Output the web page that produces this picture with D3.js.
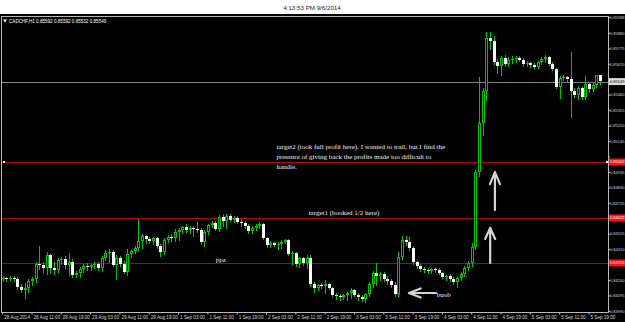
<!DOCTYPE html>
<html>
<head>
<meta charset="utf-8">
<script src="https://cdn.jsdelivr.net/npm/d3@7"></script>
<style>
  body { margin: 0; background: #fff; }
  svg { display: block; }
</style>
</head>
<body>
<svg id="chart" width="625" height="322"></svg>
<script>
// CADCHF H1, 28 Aug 2014 03:00 -> 5 Sep 2014 22:00
const symbolTitle = "CADCHF,H1";
const screenshotTime = "4:13:53 PM 9/6/2014";

const opens = [
  0.84207, 0.84214, 0.84207, 0.84214, 0.84207, 0.84152, 0.84132, 0.84146, 0.84193, 0.84207,
  0.84309, 0.84302, 0.84282, 0.84370, 0.84282, 0.84268, 0.84336, 0.84343, 0.84302, 0.84322,
  0.84234, 0.84248, 0.84275, 0.84295, 0.84288, 0.84302, 0.84309, 0.84282, 0.84350, 0.84384,
  0.84390, 0.84302, 0.84350, 0.84309, 0.84254, 0.84377, 0.84397, 0.84418, 0.84465, 0.84499,
  0.84479, 0.84465, 0.84486, 0.84431, 0.84390, 0.84472, 0.84492, 0.84486, 0.84526, 0.84540,
  0.84560, 0.84540, 0.84554, 0.84547, 0.84540, 0.84458, 0.84526, 0.84574, 0.84588, 0.84547,
  0.84628, 0.84601, 0.84635, 0.84608, 0.84622, 0.84594, 0.84588, 0.84567, 0.84533, 0.84554,
  0.84567, 0.84581, 0.84486, 0.84438, 0.84452, 0.84438, 0.84445, 0.84458, 0.84472, 0.84377,
  0.84384, 0.84309, 0.84350, 0.84316, 0.84350, 0.84173, 0.84146, 0.84166, 0.84159, 0.84173,
  0.84146, 0.84098, 0.84091, 0.84084, 0.84098, 0.84112, 0.84132, 0.84098, 0.84084, 0.84071,
  0.84105, 0.84173, 0.84248, 0.84227, 0.84241, 0.84207, 0.84193, 0.84166, 0.84105, 0.84356,
  0.84472, 0.84458, 0.84418, 0.84322, 0.84295, 0.84275, 0.84268, 0.84261, 0.84275, 0.84268,
  0.84248, 0.84220, 0.84227, 0.84207, 0.84186, 0.84214, 0.84241, 0.84282, 0.84316, 0.84424,
  0.84934, 0.85268, 0.85485, 0.85846, 0.85825, 0.85682, 0.85655, 0.85710, 0.85669, 0.85696,
  0.85703, 0.85710, 0.85696, 0.85669, 0.85676, 0.85662, 0.85648, 0.85682, 0.85703, 0.85716,
  0.85669, 0.85635, 0.85512, 0.85574, 0.85580, 0.85567, 0.85485, 0.85458, 0.85506, 0.85444,
  0.85533, 0.85499, 0.85526, 0.85592
];
const highs = [
  0.84227, 0.84220, 0.84227, 0.84227, 0.84220, 0.84173, 0.84180, 0.84207, 0.84220, 0.84322,
  0.84431, 0.84322, 0.84390, 0.84377, 0.84322, 0.84350, 0.84356, 0.84363, 0.84384, 0.84343,
  0.84261, 0.84288, 0.84309, 0.84316, 0.84309, 0.84322, 0.84322, 0.84363, 0.84404, 0.84411,
  0.84404, 0.84370, 0.84363, 0.84329, 0.84411, 0.84404, 0.84431, 0.84615, 0.84513, 0.84506,
  0.84492, 0.84492, 0.84492, 0.84445, 0.84486, 0.84506, 0.84513, 0.84547, 0.84554, 0.84567,
  0.84581, 0.84567, 0.84567, 0.84594, 0.84554, 0.84540, 0.84581, 0.84601, 0.84601, 0.84642,
  0.84649, 0.84649, 0.84649, 0.84635, 0.84635, 0.84615, 0.84601, 0.84581, 0.84567, 0.84581,
  0.84594, 0.84588, 0.84492, 0.84465, 0.84458, 0.84458, 0.84472, 0.84479, 0.84479, 0.84397,
  0.84390, 0.84356, 0.84356, 0.84370, 0.84370, 0.84186, 0.84173, 0.84180, 0.84200, 0.84180,
  0.84152, 0.84112, 0.84105, 0.84105, 0.84118, 0.84146, 0.84139, 0.84112, 0.84098, 0.84112,
  0.84186, 0.84261, 0.84316, 0.84254, 0.84254, 0.84227, 0.84207, 0.84186, 0.84390, 0.84499,
  0.84499, 0.84492, 0.84431, 0.84329, 0.84309, 0.84288, 0.84282, 0.84282, 0.84288, 0.84282,
  0.84254, 0.84234, 0.84241, 0.84220, 0.84227, 0.84254, 0.84295, 0.84329, 0.84452, 0.84948,
  0.85580, 0.85506, 0.85886, 0.85886, 0.85859, 0.85703, 0.85723, 0.85730, 0.85716, 0.85723,
  0.85723, 0.85723, 0.85710, 0.85689, 0.85682, 0.85676, 0.85689, 0.85716, 0.85730, 0.85723,
  0.85682, 0.85642, 0.85587, 0.85594, 0.85587, 0.85750, 0.85506, 0.85519, 0.85512, 0.85587,
  0.85546, 0.85540, 0.85592, 0.85592
];
const lows = [
  0.84193, 0.84193, 0.84200, 0.84193, 0.84139, 0.84118, 0.84078, 0.84118, 0.84166, 0.84186,
  0.84275, 0.84254, 0.84241, 0.84248, 0.84241, 0.84254, 0.84309, 0.84282, 0.84234, 0.84220,
  0.84220, 0.84220, 0.84254, 0.84268, 0.84268, 0.84282, 0.84268, 0.84261, 0.84336, 0.84322,
  0.84295, 0.84207, 0.84295, 0.84248, 0.84234, 0.84356, 0.84384, 0.84404, 0.84418, 0.84452,
  0.84452, 0.84445, 0.84418, 0.84363, 0.84377, 0.84458, 0.84465, 0.84465, 0.84472, 0.84520,
  0.84526, 0.84520, 0.84499, 0.84526, 0.84445, 0.84431, 0.84513, 0.84560, 0.84540, 0.84533,
  0.84567, 0.84554, 0.84601, 0.84594, 0.84588, 0.84567, 0.84554, 0.84520, 0.84520, 0.84540,
  0.84554, 0.84479, 0.84424, 0.84424, 0.84431, 0.84411, 0.84418, 0.84452, 0.84370, 0.84309,
  0.84295, 0.84288, 0.84302, 0.84282, 0.84159, 0.84118, 0.84132, 0.84146, 0.84112, 0.84139,
  0.84091, 0.84071, 0.84064, 0.84071, 0.84064, 0.84078, 0.84091, 0.84064, 0.84057, 0.84050,
  0.84091, 0.84152, 0.84166, 0.84200, 0.84193, 0.84173, 0.84152, 0.84091, 0.84091, 0.84343,
  0.84438, 0.84404, 0.84309, 0.84282, 0.84261, 0.84254, 0.84248, 0.84248, 0.84254, 0.84241,
  0.84214, 0.84200, 0.84193, 0.84173, 0.84152, 0.84200, 0.84227, 0.84268, 0.84295, 0.84411,
  0.84907, 0.85186, 0.85424, 0.85771, 0.85669, 0.85608, 0.85594, 0.85655, 0.85655, 0.85676,
  0.85682, 0.85689, 0.85655, 0.85655, 0.85648, 0.85642, 0.85642, 0.85669, 0.85682, 0.85662,
  0.85628, 0.85506, 0.85438, 0.85560, 0.85553, 0.85308, 0.85444, 0.85431, 0.85431, 0.85431,
  0.85478, 0.85485, 0.85512, 0.85532
];
const closes = [
  0.84214, 0.84207, 0.84214, 0.84207, 0.84152, 0.84132, 0.84146, 0.84193, 0.84207, 0.84309,
  0.84302, 0.84282, 0.84370, 0.84282, 0.84268, 0.84336, 0.84343, 0.84302, 0.84322, 0.84234,
  0.84248, 0.84275, 0.84295, 0.84288, 0.84302, 0.84309, 0.84282, 0.84350, 0.84384, 0.84390,
  0.84302, 0.84350, 0.84309, 0.84254, 0.84377, 0.84397, 0.84418, 0.84465, 0.84499, 0.84479,
  0.84465, 0.84486, 0.84431, 0.84390, 0.84472, 0.84492, 0.84486, 0.84526, 0.84540, 0.84560,
  0.84540, 0.84554, 0.84547, 0.84540, 0.84458, 0.84526, 0.84574, 0.84588, 0.84547, 0.84628,
  0.84601, 0.84635, 0.84608, 0.84622, 0.84594, 0.84588, 0.84567, 0.84533, 0.84554, 0.84567,
  0.84581, 0.84486, 0.84438, 0.84452, 0.84438, 0.84445, 0.84458, 0.84472, 0.84377, 0.84384,
  0.84309, 0.84350, 0.84316, 0.84350, 0.84173, 0.84146, 0.84166, 0.84159, 0.84173, 0.84146,
  0.84098, 0.84091, 0.84084, 0.84098, 0.84112, 0.84132, 0.84098, 0.84084, 0.84071, 0.84105,
  0.84173, 0.84248, 0.84227, 0.84241, 0.84207, 0.84193, 0.84166, 0.84105, 0.84356, 0.84472,
  0.84458, 0.84418, 0.84322, 0.84295, 0.84275, 0.84268, 0.84261, 0.84275, 0.84268, 0.84248,
  0.84220, 0.84227, 0.84207, 0.84186, 0.84214, 0.84241, 0.84282, 0.84316, 0.84424, 0.84934,
  0.85268, 0.85485, 0.85846, 0.85825, 0.85682, 0.85655, 0.85710, 0.85669, 0.85696, 0.85703,
  0.85710, 0.85696, 0.85669, 0.85676, 0.85662, 0.85648, 0.85682, 0.85703, 0.85716, 0.85669,
  0.85635, 0.85512, 0.85574, 0.85580, 0.85567, 0.85485, 0.85458, 0.85506, 0.85444, 0.85533,
  0.85499, 0.85526, 0.85592, 0.85549
];

// time axis: one label every 8 hourly bars
const timeTickBars = [0, 8, 16, 24, 32, 40, 48, 56, 64, 72, 80, 88, 96, 104, 112, 120, 128, 136, 144, 152, 160];
const timeLabels = [
  "28 Aug 2014", "28 Aug 11:00", "28 Aug 19:00", "29 Aug 03:00", "29 Aug 11:00", "29 Aug 19:00",
  "1 Sep 03:00", "1 Sep 11:00", "1 Sep 19:00", "2 Sep 03:00", "2 Sep 11:00", "2 Sep 19:00",
  "3 Sep 03:00", "3 Sep 11:00", "3 Sep 19:00", "4 Sep 03:00", "4 Sep 11:00", "4 Sep 19:00",
  "5 Sep 03:00", "5 Sep 11:00", "5 Sep 19:00"
];

const priceMax = 0.85988;
const priceMin = 0.83976;
const priceTicks = [
  0.85988, 0.85880, 0.85775, 0.85670, 0.85565, 0.85460, 0.85355, 0.85250, 0.85145, 0.85040,
  0.84935, 0.84830, 0.84725, 0.84620, 0.84515, 0.84410, 0.84305, 0.84200, 0.84095, 0.83990
];
const levels = [0.85002, 0.84622, 0.84316];
const bidPrice = 0.85549;

const notes = [
  {text: "target2 (took full profit here). I wanted to trail, but I find the", price: 0.85104, bar: 75.2},
  {text: "pressure of giving back the profits made too difficult to", price: 0.85036, bar: 75.2},
  {text: "handle.", price: 0.84968, bar: 75.2},
  {text: "target1 (booked 1/2 here)", price: 0.84656, bar: 84},
  {text: "ppz", price: 0.84336, bar: 58.6},
  {text: "buob", price: 0.84098, bar: 119}
];

const W = 625, H = 322;
const green = "#00c400";
const axisFont = "'Liberation Sans', Arial, sans-serif";
const priceFont = 4.0;   // small enough for the narrow right strip
const n = closes.length;

let svg = d3.select("#chart");

svg.append("rect").attr("width", W).attr("height", H).attr("fill", "#fff");
svg.append("rect").attr("y", 14).attr("width", W).attr("height", H - 14).attr("fill", "#000");

svg.append("text")
    .attr("x", 312).attr("y", 10)
    .attr("text-anchor", "middle")
    .attr("font-family", axisFont)
    .attr("font-size", 6.2)
    .attr("fill", "#222")
    .text(screenshotTime);

let xScale = d3.scaleBand().domain(d3.range(n)).range([1.2, 1.2 + 3.66 * n]).paddingInner(0.2);
let yScale = d3.scaleLinear().domain([priceMin, priceMax]).range([313, 17]);
let cx = i => Math.round(xScale(i) + xScale.bandwidth() / 2);
let xAt = b => 1.2 + 3.66 * b;   // position of a fractional bar index (for annotations)
let py = p => Math.round(yScale(p)) + 0.5;

svg.append("defs").append("clipPath").attr("id", "plotClip")
    .append("rect").attr("x", 2).attr("y", 17).attr("width", 606).attr("height", 295);

// frame
svg.append("rect")
    .attr("x", 1.5).attr("y", 16.5).attr("width", 607).attr("height", 296)
    .attr("fill", "none").attr("stroke", "#b8b8b8").attr("stroke-width", 1)
    .attr("shape-rendering", "crispEdges");

// bid line + horizontal levels
svg.append("line")
    .attr("x1", 2).attr("x2", 608)
    .attr("y1", py(bidPrice)).attr("y2", py(bidPrice))
    .attr("stroke", "#7c8088").attr("shape-rendering", "crispEdges");

svg.selectAll(".level").data(levels).join("line")
    .attr("class", "level")
    .attr("x1", 2).attr("x2", 608)
    .attr("y1", d => py(d)).attr("y2", d => py(d))
    .attr("stroke", "#b80000").attr("shape-rendering", "crispEdges");

svg.append("rect").attr("x", 3).attr("y", py(levels[0]) - 1.5).attr("width", 2).attr("height", 2).attr("fill", "#fff");
svg.append("rect").attr("x", 606).attr("y", py(levels[0]) - 1.5).attr("width", 2).attr("height", 2).attr("fill", "#fff");

// candles
let data = d3.range(n).map(i => ({i: i, o: opens[i], h: highs[i], l: lows[i], c: closes[i]}));
let candles = svg.append("g").attr("clip-path", "url(#plotClip)").attr("shape-rendering", "crispEdges");

candles.selectAll(".wick").data(data).join("line")
    .attr("class", "wick")
    .attr("x1", d => cx(d.i) + 0.5).attr("x2", d => cx(d.i) + 0.5)
    .attr("y1", d => Math.round(yScale(d.h))).attr("y2", d => Math.round(yScale(d.l)) + 1)
    .attr("stroke", green);

let bodyTop = d => Math.round(yScale(Math.max(d.o, d.c)));
let bodyH = d => Math.max(1, Math.round(Math.abs(yScale(d.o) - yScale(d.c))));

candles.selectAll(".body").data(data).join("rect")
    .attr("class", "body")
    .attr("x", d => cx(d.i) - 1).attr("width", 3)
    .attr("y", bodyTop).attr("height", bodyH)
    .attr("fill", d => d.c < d.o ? "#ffffff" : green);

candles.selectAll(".hollow").data(data.filter(d => d.c > d.o && bodyH(d) > 2)).join("rect")
    .attr("class", "hollow")
    .attr("x", d => cx(d.i)).attr("width", 1)
    .attr("y", d => bodyTop(d) + 1).attr("height", d => bodyH(d) - 2)
    .attr("fill", "#000");

// price axis (labels hidden where a price box sits on top of them, as in the terminal)
let boxed = levels.concat([bidPrice]);
let yAxis = d3.axisRight(yScale).tickValues(priceTicks).tickFormat(d3.format(".5f")).tickSize(1.5).tickPadding(0);
let gy = svg.append("g").attr("transform", "translate(608.5,0)").call(yAxis);
gy.select(".domain").remove();
gy.selectAll("line").attr("stroke", "#c8c8c8");
gy.selectAll("text")
    .attr("fill", "#d8d8d8").attr("font-size", priceFont).attr("font-family", axisFont);
gy.selectAll(".tick")
    .filter(d => boxed.some(b => Math.abs(yScale(b) - yScale(d)) < 6))
    .select("text").remove();

// level price boxes
let boxes = svg.append("g");
boxes.selectAll("rect").data(levels).join("rect")
    .attr("x", 609).attr("y", d => yScale(d) - 3.5).attr("width", 16).attr("height", 7)
    .attr("fill", "#ff1010");
boxes.selectAll("text").data(levels).join("text")
    .attr("x", 610).attr("y", d => yScale(d) + 1.4)
    .attr("font-size", priceFont).attr("font-family", axisFont).attr("fill", "#fff")
    .text(d => d3.format(".5f")(d));

svg.append("rect").attr("x", 609).attr("y", yScale(bidPrice) - 3.5).attr("width", 16).attr("height", 7).attr("fill", "#dcdcdc");
svg.append("text").attr("x", 610).attr("y", yScale(bidPrice) + 1.4)
    .attr("font-size", priceFont).attr("font-family", axisFont).attr("fill", "#000")
    .text(d3.format(".5f")(bidPrice));

// time axis
let xAxis = d3.axisBottom(xScale).tickValues(timeTickBars).tickFormat((d, i) => timeLabels[i]).tickSize(2).tickPadding(1);
let gx = svg.append("g").attr("transform", "translate(0,312.5)").call(xAxis);
gx.select(".domain").remove();
gx.selectAll("line").attr("stroke", "#c8c8c8");
gx.selectAll("text")
    .attr("text-anchor", "start").attr("x", 1.5)
    .attr("fill", "#d8d8d8").attr("font-size", 4.6).attr("font-family", axisFont);

// symbol title with last bar OHLC
let last = n - 1;
let fmt = d3.format(".5f");
svg.append("path").attr("d", "M3,19.5 L7,19.5 L5,22.5 Z").attr("fill", "#fff");
svg.append("text")
    .attr("x", 9).attr("y", 22.5)
    .attr("font-size", 4.6).attr("font-family", axisFont).attr("fill", "#fff")
    .text(symbolTitle + "  " + [opens[last], highs[last], lows[last], closes[last]].map(fmt).join(" "));

// annotations
svg.selectAll(".note").data(notes).join("text")
    .attr("class", "note")
    .attr("x", d => xAt(d.bar)).attr("y", d => yScale(d.price) + 2)
    .attr("font-family", "'Liberation Serif', 'Times New Roman', serif")
    .attr("font-size", 7).attr("fill", "#f0f0f0")
    .text(d => d.text);

// arrows drawn on the chart
let arrows = svg.append("g")
    .attr("fill", "none").attr("stroke", "#d4d4d4")
    .attr("stroke-width", 2.2).attr("stroke-linecap", "round").attr("stroke-linejoin", "round");
let lx = xAt(133.6), ux = xAt(134.9);
// lower arrow: from the target1 entry line up to target1
arrows.append("path").attr("d", `M${lx},${yScale(levels[2])} V${yScale(0.84554)} M${lx - 5},${yScale(0.84479)} L${lx},${yScale(0.84554)} L${lx + 5},${yScale(0.84479)}`);
// upper arrow: towards target2
arrows.append("path").attr("d", `M${ux},${yScale(0.84676)} V${yScale(0.84934)} M${ux - 5},${yScale(0.84852)} L${ux},${yScale(0.84934)} L${ux + 5},${yScale(0.84852)}`);
let ay = yScale(0.84112);
arrows.append("path").attr("d", `M${xAt(118.8)},${ay} H${xAt(111.4)} M${xAt(114.6)},${ay - 4.5} L${xAt(111.4)},${ay} L${xAt(114.6)},${ay + 4.5}`);
</script>
</body>
</html>
